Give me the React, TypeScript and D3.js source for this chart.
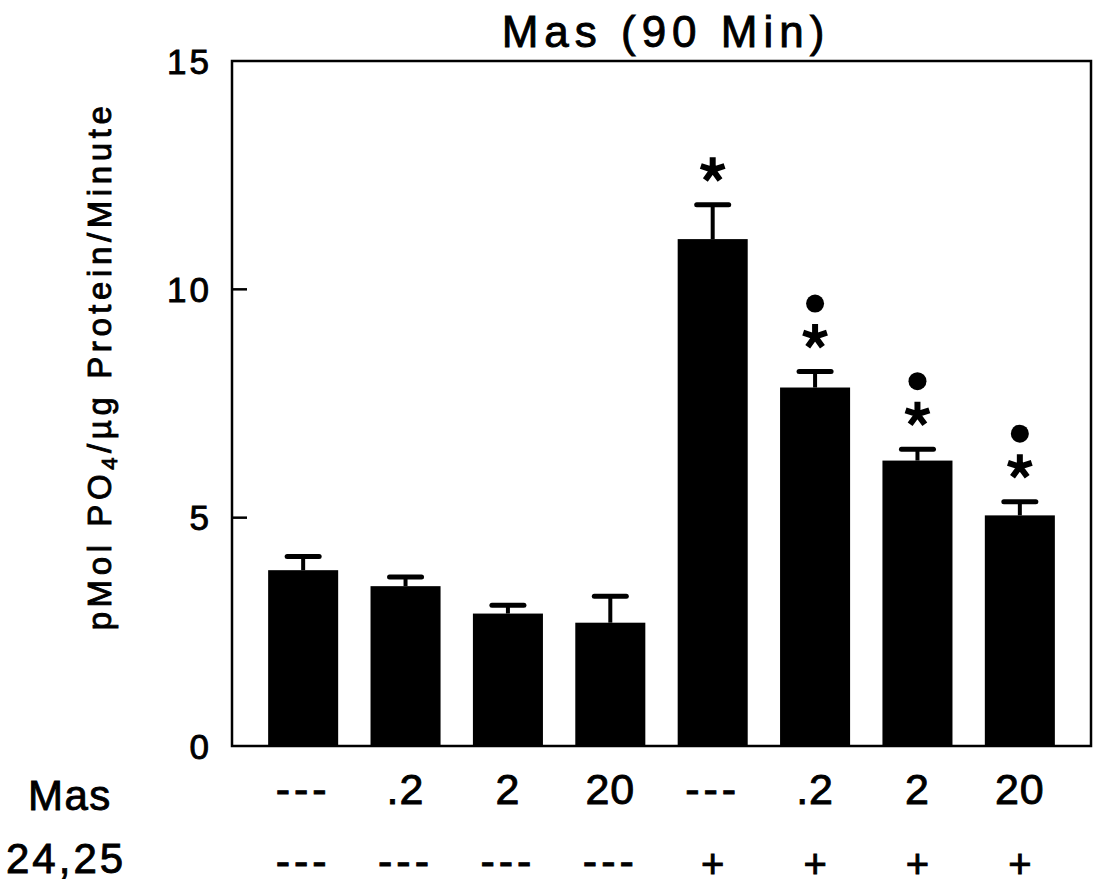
import React from "react";
import * as d3 from "d3";

const masLabels = ["---", ".2", "2", "20", "---", ".2", "2", "20"];
const vitLabels = ["---", "---", "---", "---", "+", "+", "+", "+"];
const means = [3.85, 3.5, 2.9, 2.7, 11.1, 7.85, 6.25, 5.05];
const errors = [0.3, 0.2, 0.18, 0.58, 0.75, 0.35, 0.25, 0.3];
const stars = [false, false, false, false, true, true, true, true];
const dots = [false, false, false, false, false, true, true, true];
const yTicks = [0, 5, 10, 15];

const W = 1099;
const H = 888;
const left = 232;
const right = 1091;
const top = 61;
const bottom = 746;
const FONT = "'Liberation Sans', Arial, Helvetica, sans-serif";

function asteriskPath(cx: number, cy: number, r: number) {
  const p = d3.path();
  for (let k = 0; k < 5; k++) {
    const a = -Math.PI / 2 + (k * 2 * Math.PI) / 5;
    p.moveTo(cx, cy);
    p.lineTo(cx + r * Math.cos(a), cy + r * Math.sin(a));
  }
  return p.toString();
}

export default function App() {
  const idx = means.map((_, i) => i);
  const x = d3
    .scaleBand<number>()
    .domain(idx)
    .range([left, right])
    .paddingInner(0.316)
    .paddingOuter(0.353);
  const y = d3.scaleLinear().domain([0, 15]).range([bottom, top]);
  const bw = x.bandwidth();

  const txt = { fontFamily: FONT, fill: "#000", stroke: "#000", strokeWidth: 0.9 };

  return (
    <svg
      width={W}
      height={H}
      style={{ position: "absolute", left: 0, top: 0, background: "#fff" }}
    >
      <rect x={0} y={0} width={W} height={H} fill="#fff" />
      {/* title */}
      <text
        x={666}
        y={47}
        textAnchor="middle"
        fontSize={44}
        style={{ letterSpacing: "6px" }}
        {...txt}
      >
        Mas (90 Min)
      </text>

      {/* bars */}
      {means.map((m, i) => (
        <rect
          key={"b" + i}
          x={x(i)}
          y={y(m)}
          width={bw}
          height={y(0) - y(m)}
          fill="#000"
        />
      ))}

      {/* error bars */}
      {means.map((m, i) => {
        const cx = (x(i) as number) + bw / 2;
        return (
          <g key={"e" + i}>
            <line x1={cx} x2={cx} y1={y(m)} y2={y(m + errors[i])} stroke="#000" strokeWidth={4} />
            <line
              x1={cx - 16}
              x2={cx + 16}
              y1={y(m + errors[i])}
              y2={y(m + errors[i])}
              stroke="#000"
              strokeWidth={5}
              strokeLinecap="round"
            />
          </g>
        );
      })}

      {/* significance markers */}
      {means.map((m, i) => {
        const cx = (x(i) as number) + bw / 2;
        const capY = y(m + errors[i]);
        return (
          <g key={"s" + i}>
            {stars[i] && (
              <path d={asteriskPath(cx, capY - 35, 12.5)} stroke="#000" strokeWidth={6} fill="none" />
            )}
            {dots[i] && <circle cx={cx} cy={capY - 68} r={9} fill="#000" />}
          </g>
        );
      })}

      {/* frame */}
      <rect
        x={left}
        y={top}
        width={right - left}
        height={bottom - top}
        fill="none"
        stroke="#000"
        strokeWidth={2.5}
      />

      {/* y ticks */}
      {yTicks.map((t) => (
        <g key={"t" + t}>
          {t > 0 && t < 15 && (
            <line x1={left} x2={left + 15} y1={y(t)} y2={y(t)} stroke="#000" strokeWidth={2.5} />
          )}
          <text
            x={212}
            y={y(t)}
            dy="0.36em"
            textAnchor="end"
            fontSize={35}
            style={{ letterSpacing: "3px" }}
            {...txt}
          >
            {t}
          </text>
        </g>
      ))}

      {/* y title */}
      <text
        transform={`translate(111, 366) rotate(-90)`}
        textAnchor="middle"
        fontSize={33}
        style={{ letterSpacing: "4.6px" }}
        {...txt}
      >
        pMol PO
        <tspan fontSize={22} dy={6}>
          4
        </tspan>
        <tspan dy={-6}>/µg Protein/Minute</tspan>
      </text>

      {/* row labels */}
      <text x={28} y={810} fontSize={42} style={{ letterSpacing: "1.5px" }} {...txt}>
        Mas
      </text>
      <text x={6} y={873} fontSize={42} style={{ letterSpacing: "3px" }} {...txt}>
        24,25
      </text>

      {masLabels.map((l, i) => (
        <text
          key={"m" + i}
          x={(x(i) as number) + bw / 2}
          y={804}
          textAnchor="middle"
          fontSize={43}
          style={{ letterSpacing: l === "---" ? "4px" : "1px" }}
          {...txt}
        >
          {l}
        </text>
      ))}
      {vitLabels.map((l, i) => (
        <text
          key={"v" + i}
          x={(x(i) as number) + bw / 2}
          y={l === "+" ? 878 : 876}
          textAnchor="middle"
          fontSize={l === "+" ? 40 : 43}
          style={{ letterSpacing: l === "---" ? "4px" : "0px" }}
          {...txt}
        >
          {l}
        </text>
      ))}
    </svg>
  );
}
